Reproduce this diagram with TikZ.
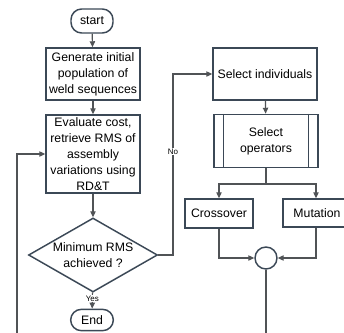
\documentclass[tikz,border=0pt]{standalone}
\usepackage{fontspec}
\setmainfont{Liberation Sans}
\usetikzlibrary{shapes,arrows,positioning,calc,arrows.meta}
\definecolor{boxline}{HTML}{3B4856}
\definecolor{conline}{HTML}{505356}

\begin{document}
\begin{tikzpicture}[x=0.75pt,y=-0.75pt,
    every node/.style={font=\fontsize{9.2}{12}\selectfont},
    stepbox/.style={draw=boxline, line width=1.1pt, fill=white, align=center, inner sep=0pt},
    term/.style={stepbox, rounded corners=8pt},
    con/.style={draw=conline, line width=0.9pt, -{Triangle[length=4.5pt,width=4pt]}},
    lbl/.style={fill=white, inner sep=0.5pt, font=\fontsize{6}{7}\selectfont}]
    \useasboundingbox (0,0) rectangle (344,333);

    % Main loop (left column)
    \node[term, minimum width=31.5pt, minimum height=18pt] (start) at (92,21) {start};
    \node[stepbox, minimum width=70.5pt, minimum height=39pt] (gen) at (93,74)
        {Generate initial\\population of\\weld sequences};
    \node[stepbox, minimum width=70.5pt, minimum height=58.5pt] (eval) at (93,154) {};
    \node[align=center] at (eval.center) {Evaluate cost,\\retrieve RMS of\\assembly\\variations using\\RD\&T};
    \node[draw=boxline, line width=1.1pt, fill=white, diamond, inner sep=0pt,
        minimum width=96.75pt, minimum height=55.5pt] (chk) at (93,255) {};
    \node[align=center] at (chk.center) {Minimum RMS\\achieved ?};
    \node[term, minimum width=32pt, minimum height=16pt] (end) at (92,320) {End};

    \draw[con] (start) -- (gen);
    \draw[con] (gen) -- (eval);
    \draw[con] (eval) -- (chk);
    \draw[con] (chk) -- node[lbl, pos=0.4] {Yes} (end);

    % GA operators (right column)
    \node[stepbox, minimum width=78pt, minimum height=39pt] (sel) at (265,74) {Select individuals};
    \node[stepbox, minimum width=78pt, minimum height=39.75pt] (ops) at (266,141) {Select\\operators};
    \draw[boxline, line width=1.1pt] ([xshift=7.5pt]ops.north west) -- ([xshift=7.5pt]ops.south west);
    \draw[boxline, line width=1.1pt] ([xshift=-7.5pt]ops.north east) -- ([xshift=-7.5pt]ops.south east);
    \node[stepbox, minimum width=51pt, minimum height=21.75pt] (cross) at (219,213.5) {Crossover};
    \node[stepbox, minimum width=51pt, minimum height=21pt] (mut) at (317,213) {Mutation};
    \node[draw=boxline, line width=1.1pt, circle, minimum size=16.5pt, inner sep=0pt] (join) at (266,258) {};

    \draw[con] (sel) -- (ops);
    \coordinate (split) at (266,184);
    \draw[conline, line width=0.9pt] (ops.south) -- (split);
    \draw[con] (split) -| (cross.north);
    \draw[con] ([xshift=-0.75pt]split) -| ([xshift=-0.75pt]mut.north);
    \draw[con] (cross.south) |- (join.west);
    \draw[con] ([xshift=-0.75pt]mut.south) |- (join.east);

    % No branch and return path
    \coordinate (nobend) at (173,255);
    \draw[con] (chk.east) -- (nobend) -- node[lbl, pos=0.57] {No} (nobend |- sel.west) -- (sel.west);
    \coordinate (botL) at (17,334);
    \coordinate (botR) at (266,334);
    \draw[conline, line width=0.9pt] (join.south) -- (botR);
    \draw[con] (botL) -- (botL |- eval.west) -- (eval.west);
\end{tikzpicture}
\end{document}
